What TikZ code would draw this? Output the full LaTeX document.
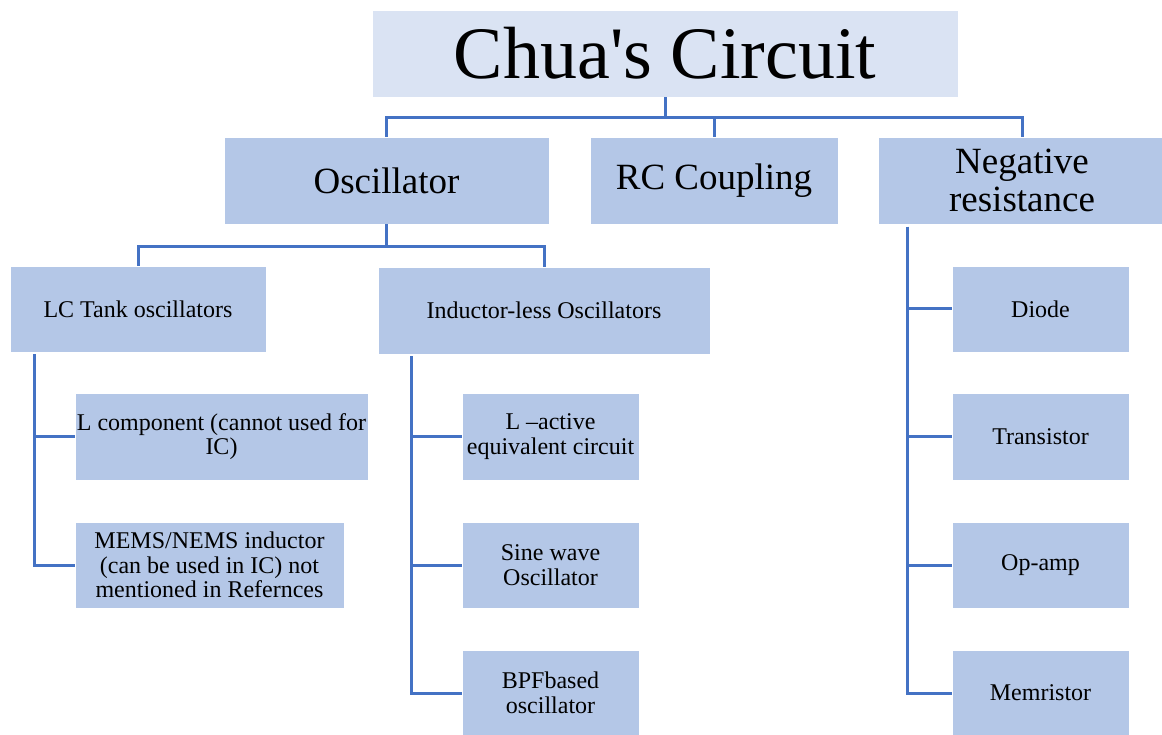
\documentclass[tikz,border=0pt]{standalone}
\usepackage{fontspec}
\setmainfont{Liberation Serif}
\definecolor{boxblue}{HTML}{B4C7E7}
\definecolor{titlebg}{HTML}{DAE3F3}
\definecolor{linkblue}{HTML}{4472C4}
\begin{document}
\begin{tikzpicture}[x=1pt,y=-1pt,
  box/.style={fill=boxblue, draw=white, line width=0.6pt, inner sep=0pt, align=center,
              font=\fontsize{24}{24.5}\selectfont},
  bigbox/.style={box, font=\fontsize{37}{38}\selectfont},
  link/.style={draw=linkblue, line width=3pt}]
\useasboundingbox (0,0) rectangle (1162,735);

% title
\node[box, fill=titlebg, font=\fontsize{74}{80}\selectfont, minimum width=586pt, minimum height=87pt] (title) at (665,53.5) {Chua\textquotesingle s Circuit};

% level 2
\node[bigbox, minimum width=325pt, minimum height=87pt] (osc) at (386.5,180.5) {Oscillator};
\node[bigbox, minimum width=248pt, minimum height=87pt] (rc) at (714,180.5) {RC Coupling};
\node[bigbox, minimum width=288pt, minimum height=87pt] (neg) at (1022,180.5) {Negative\\resistance};

% level 3
\node[box, minimum width=256pt, minimum height=86pt] (lc) at (138,309) {LC Tank oscillators};
\node[box, minimum width=332pt, minimum height=87pt] (ind) at (544,310.5) {Inductor-less Oscillators};

% LC children
\node[box, minimum width=293pt, minimum height=87pt] (lcomp) at (221.5,436.5) {L component (cannot used for\\IC)};
\node[box, minimum width=269pt, minimum height=86pt] (mems) at (209.5,565) {MEMS/NEMS inductor\\(can be used in IC) not\\mentioned in Refernces};

% inductor-less children
\node[box, minimum width=177pt, minimum height=87pt] (lact) at (550.5,436.5) {L --active\\equivalent circuit};
\node[box, minimum width=177pt, minimum height=86pt] (sine) at (550.5,565) {Sine wave\\Oscillator};
\node[box, minimum width=177pt, minimum height=86pt] (bpf) at (550.5,693) {BPFbased\\oscillator};

% negative resistance children
\node[box, minimum width=177pt, minimum height=86pt] (diode) at (1040.5,309) {Diode};
\node[box, minimum width=177pt, minimum height=87pt] (trans) at (1040.5,436.5) {Transistor};
\node[box, minimum width=177pt, minimum height=86pt] (opamp) at (1040.5,565) {Op-amp};
\node[box, minimum width=177pt, minimum height=86pt] (memr) at (1040.5,693) {Memristor};

% connectors: title
\coordinate (bus1) at (0,118);
\draw[link] (title.south) -- (title.south |- bus1);
\draw[link] (osc.north) -- (osc.north |- bus1) -| (neg.north);
\draw[link] (rc.north) -- (rc.north |- bus1);

% connectors: oscillator
\coordinate (bus2) at (0,246.5);
\draw[link] (osc.south) -- (osc.south |- bus2);
\draw[link] (lc.north) -- (lc.north |- bus2) -| (ind.north);

% LC children
\coordinate (lcv) at (34,354);
\draw[link] (lcv) |- (lcomp.west);
\draw[link] (lcv) |- (mems.west);

% inductor-less children
\coordinate (indv) at (411,356);
\draw[link] (indv) |- (lact.west);
\draw[link] (indv) |- (sine.west);
\draw[link] (indv) |- (bpf.west);

% negative resistance children
\coordinate (negv) at (907,227);
\draw[link] (negv) |- (diode.west);
\draw[link] (negv) |- (trans.west);
\draw[link] (negv) |- (opamp.west);
\draw[link] (negv) |- (memr.west);
\end{tikzpicture}
\end{document}
